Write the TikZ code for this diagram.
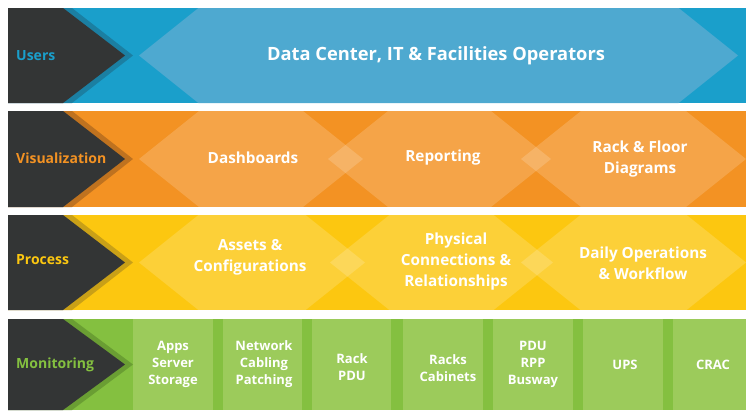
\documentclass[tikz,border=0pt]{standalone}
\usepackage{fontspec}
\setmainfont{Open Sans}
\definecolor{darkarrow}{HTML}{333535}
\definecolor{ubg}{HTML}{1A9FCB}\definecolor{uhex}{HTML}{4EA9D0}\definecolor{ustr}{HTML}{1B7FA2}
\definecolor{vbg}{HTML}{F39223}\definecolor{vstr}{HTML}{BF721F}
\definecolor{pbg}{HTML}{FCC710}\definecolor{pstr}{HTML}{C9A017}
\definecolor{mbg}{HTML}{84C040}\definecolor{mbox}{HTML}{9CCB5B}\definecolor{mstr}{HTML}{6A9E33}
\tikzset{
  lbl/.style={anchor=west,inner sep=0pt,font=\bfseries\fontsize{14}{16}\selectfont},
  itm/.style={align=center,text=white,font=\bfseries\fontsize{15.3}{21}\selectfont,inner sep=0pt},
  mitm/.style={align=center,text=white,font=\bfseries\fontsize{13}{17}\selectfont,inner sep=0pt},
  lighthex/.style={fill=white,fill opacity=0.17}
}
\newcommand\hexshape[5]{%
  \pgfmathsetmacro\hm{(#4+#5)/2}\pgfmathsetmacro\hd{0.625*(#5-#4)}%
  \fill[#1] (#2,\hm) -- (#2+\hd,#4) -- (#3-\hd,#4) -- (#3,\hm) -- (#3-\hd,#5) -- (#2+\hd,#5) -- cycle;}
\newcommand\labelarrow[3]{%
  \pgfmathsetmacro\am{(#2+#3)/2}%
  \fill[#1] (8,#2) -- (72,#2) -- (133,\am) -- (72,#3) -- (8,#3) -- cycle;
  \fill[darkarrow] (8,#2) -- (63,#2) -- (125,\am) -- (63,#3) -- (8,#3) -- cycle;}
\begin{document}
\begin{tikzpicture}[x=1pt,y=-1pt]
\fill[white] (0,0) rectangle (746,410);
\useasboundingbox (0,0) rectangle (746,410);
% Users band
\fill[ubg] (8,8) rectangle (746,103);
\hexshape{uhex}{139}{738}{8}{103}
\labelarrow{ustr}{8}{103}
\node[lbl,text=ubg] (users) at (16,55.5) {Users};
\node[itm,font=\bfseries\fontsize{18.3}{21}\selectfont] (dc) at (436,56) {Data Center, IT \& Facilities Operators};
% Visualization band
\fill[vbg] (8,111) rectangle (746,207);
\hexshape{lighthex}{139}{363}{111}{207}
\hexshape{lighthex}{328}{551}{111}{207}
\hexshape{lighthex}{521}{746}{111}{207}
\labelarrow{vstr}{111}{207}
\node[lbl,text=vbg] (vis) at (16,158) {Visualization};
\node[itm] (dash) at (253,158) {Dashboards};
\node[itm] (rep) at (443,158) {Reporting};
\node[itm] (rack) at (640,159) {Rack \& Floor\\Diagrams};
% Process band
\fill[pbg] (8,215) rectangle (746,310);
\hexshape{lighthex}{139}{365}{215}{310}
\hexshape{lighthex}{330}{553}{215}{310}
\hexshape{lighthex}{521}{746}{215}{310}
\labelarrow{pstr}{215}{310}
\node[lbl,text=pbg] (proc) at (16,260) {Process};
\node[itm] (assets) at (250,257) {Assets \&\\Configurations};
\node[itm] (phys) at (456,262) {Physical\\Connections \&\\Relationships};
\node[itm] (daily) at (643,263) {Daily Operations\\\& Workflow};
% Monitoring band
\fill[mbg] (8,319) rectangle (746,410);
\foreach \a/\b in {133/213,223/302,312/391,403/483,493/573,583/663,673/746}
  \fill[mbox] (\a,319) rectangle (\b,410);
\labelarrow{mstr}{319}{410}
\node[lbl,text=mbg] (mon) at (16,365) {Monitoring};
\node[mitm] (apps) at (173,364) {Apps\\Server\\Storage};
\node[mitm] (net) at (264,364) {Network\\Cabling\\Patching};
\node[mitm] (rpdu) at (352,367) {Rack\\PDU};
\node[mitm] (racks) at (448,368) {Racks\\Cabinets};
\node[mitm] (pdu) at (533,364) {PDU\\RPP\\Busway};
\node[mitm] (ups) at (625,365) {UPS};
\node[mitm] (crac) at (713,365) {CRAC};
\end{tikzpicture}
\end{document}
